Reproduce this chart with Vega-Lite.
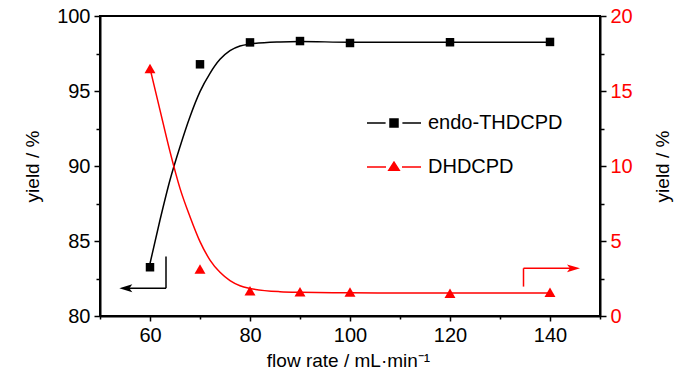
{
  "$schema": "https://vega.github.io/schema/vega-lite/v6.json",
  "width": 500,
  "height": 300,
  "autosize": {"type": "none"},
  "padding": {"left": 100, "top": 16, "right": 100, "bottom": 58},
  "background": "white",
  "config": {
    "font": "Liberation Sans",
    "view": {"stroke": "black", "strokeWidth": 2},
    "axis": {
      "grid": false,
      "domainColor": "black",
      "domainWidth": 2,
      "tickColor": "black",
      "tickWidth": 1.5,
      "labelFont": "Liberation Sans",
      "labelFontSize": 20,
      "labelColor": "black",
      "titleFont": "Liberation Sans",
      "titleFontSize": 19,
      "titleFontWeight": "normal",
      "titleColor": "black",
      "labelOverlap": false,
      "labelFlush": false
    }
  },
  "datasets": {
    "endo": [
      {"x": 60, "y": 83.25}, {"x": 70, "y": 96.78}, {"x": 80, "y": 98.24},
      {"x": 90, "y": 98.33}, {"x": 100, "y": 98.2}, {"x": 120, "y": 98.25},
      {"x": 140, "y": 98.27}
    ],
    "endoFit": [
      {"x": 60, "y": 83.5}, {"x": 62, "y": 86.4}, {"x": 64, "y": 89.07},
      {"x": 66, "y": 91.29}, {"x": 68, "y": 93.29}, {"x": 70, "y": 94.96},
      {"x": 72, "y": 96.18}, {"x": 74, "y": 97.11}, {"x": 76, "y": 97.69},
      {"x": 78, "y": 98.0}, {"x": 80, "y": 98.13}, {"x": 86, "y": 98.27},
      {"x": 90, "y": 98.3}, {"x": 100, "y": 98.25}, {"x": 120, "y": 98.25},
      {"x": 140, "y": 98.25}
    ],
    "dh": [
      {"x": 60, "y": 16.5}, {"x": 70, "y": 3.13}, {"x": 80, "y": 1.69},
      {"x": 90, "y": 1.62}, {"x": 100, "y": 1.6}, {"x": 120, "y": 1.51},
      {"x": 140, "y": 1.58}
    ],
    "dhFit": [
      {"x": 60, "y": 16.51}, {"x": 62, "y": 13.73}, {"x": 64, "y": 10.96},
      {"x": 66, "y": 8.51}, {"x": 68, "y": 6.62}, {"x": 70, "y": 4.96},
      {"x": 72, "y": 3.73}, {"x": 74, "y": 2.91}, {"x": 76, "y": 2.36},
      {"x": 78, "y": 2.02}, {"x": 80, "y": 1.84}, {"x": 86, "y": 1.62},
      {"x": 90, "y": 1.58}, {"x": 100, "y": 1.55}, {"x": 120, "y": 1.53},
      {"x": 140, "y": 1.53}
    ],
    "endoArrow": [
      {"x": 63.2, "x2": 63.2, "y": 81.85, "y2": 83.97},
      {"x": 55.5, "x2": 63.2, "y": 81.85, "y2": 81.85}
    ],
    "endoHead": [{"x": 55.16, "y": 81.85}],
    "dhArrow": [
      {"x": 134.7, "x2": 134.7, "y": 1.96, "y2": 3.18},
      {"x": 134.7, "x2": 144.5, "y": 3.18, "y2": 3.18}
    ],
    "dhHead": [{"x": 144.7, "y": 3.18}]
  },
  "encoding": {
    "x": {
      "field": "x",
      "type": "quantitative",
      "scale": {"domain": [50, 150], "nice": false, "zero": false},
      "axis": {
        "values": [50, 60, 70, 80, 90, 100, 110, 120, 130, 140, 150],
        "labelExpr": "datum.value % 20 === 0 && datum.value >= 60 && datum.value <= 140 ? datum.label : ''",
        "tickSize": {"condition": {"test": "datum.value % 20 === 0", "value": 5}, "value": 3},
        "labelPadding": 4,
        "title": "flow rate / mL·min⁻¹",
        "titleX": 248,
        "titleY": 50,
        "titleBaseline": "alphabetic"
      }
    }
  },
  "layer": [
    {
      "data": {"name": "endo"},
      "encoding": {
        "y": {
          "field": "y",
          "type": "quantitative",
          "scale": {"domain": [80, 100], "nice": false, "zero": false},
          "axis": {
            "orient": "left",
            "values": [80, 82.5, 85, 87.5, 90, 92.5, 95, 97.5, 100],
            "labelExpr": "datum.value % 5 === 0 ? datum.label : ''",
            "tickSize": {"condition": {"test": "datum.value % 5 === 0", "value": 6}, "value": 4},
            "labelPadding": 4,
            "title": "yield / %",
            "titleAngle": 270,
            "titleX": -62,
            "titleY": 150,
            "titleBaseline": "alphabetic"
          }
        }
      },
      "layer": [
        {
          "data": {"name": "endoFit"},
          "mark": {"type": "line", "color": "black", "strokeWidth": 1.5, "interpolate": "monotone"}
        },
        {
          "mark": {"type": "point", "shape": "square", "filled": true, "color": "black", "opacity": 1, "size": 72}
        },
        {
          "data": {"name": "endoArrow"},
          "mark": {"type": "rule", "color": "black", "strokeWidth": 1.5},
          "encoding": {
            "x2": {"field": "x2"},
            "y2": {"field": "y2"}
          }
        },
        {
          "data": {"name": "endoHead"},
          "mark": {"type": "point", "shape": "M-1,0L1,-0.6L0.55,0L1,0.6Z", "filled": true, "color": "black", "opacity": 1, "size": 169}
        },
        {
          "transform": [{"filter": "datum.x > 1000"}],
          "mark": {"type": "point", "opacity": 1, "strokeWidth": 1.5},
          "encoding": {
            "fill": {
              "field": "series",
              "type": "nominal",
              "scale": {"domain": ["endo-THDCPD", "DHDCPD"], "range": ["black", "#ff0000"]},
              "legend": {
                "orient": "none",
                "legendX": 273,
                "legendY": 86,
                "title": null,
                "padding": 0,
                "labelFontSize": 20,
                "labelFont": "Liberation Sans",
                "labelColor": "black",
                "symbolSize": 1600,
                "symbolStrokeWidth": 1.5,
                "symbolOpacity": 1,
                "labelOffset": 13,
                "rowPadding": 13
              }
            },
            "stroke": {
              "field": "series",
              "type": "nominal",
              "scale": {"domain": ["endo-THDCPD", "DHDCPD"], "range": ["black", "#ff0000"]}
            },
            "shape": {
              "field": "series",
              "type": "nominal",
              "scale": {
                "domain": ["endo-THDCPD", "DHDCPD"],
                "range": [
                  "M-1.35,0H-0.42M0.42,0H1.35M-0.2,-0.2H0.2V0.2H-0.2Z",
                  "M-1.35,0H-0.4M0.4,0H1.35M0,-0.24L0.26,0.16H-0.26Z"
                ]
              }
            }
          }
        }
      ]
    },
    {
      "data": {"name": "dh"},
      "encoding": {
        "y": {
          "field": "y",
          "type": "quantitative",
          "scale": {"domain": [0, 20], "nice": false, "zero": false},
          "axis": {
            "orient": "right",
            "values": [0, 2.5, 5, 7.5, 10, 12.5, 15, 17.5, 20],
            "labelExpr": "datum.value % 5 === 0 ? datum.label : ''",
            "tickSize": {"condition": {"test": "datum.value % 5 === 0", "value": 6}, "value": 4},
            "labelPadding": 4,
            "labelColor": "#ff0000",
            "title": "yield / %",
            "titleAngle": 270,
            "titleX": 68,
            "titleY": 150,
            "titleBaseline": "alphabetic"
          }
        }
      },
      "layer": [
        {
          "data": {"name": "dhFit"},
          "mark": {"type": "line", "color": "#ff0000", "strokeWidth": 1.5, "interpolate": "monotone"}
        },
        {
          "mark": {"type": "point", "shape": "triangle-up", "filled": true, "color": "#ff0000", "opacity": 1, "size": 120}
        },
        {
          "data": {"name": "dhArrow"},
          "mark": {"type": "rule", "color": "#ff0000", "strokeWidth": 1.5},
          "encoding": {
            "x2": {"field": "x2"},
            "y2": {"field": "y2"}
          }
        },
        {
          "data": {"name": "dhHead"},
          "mark": {"type": "point", "shape": "M1,0L-1,-0.6L-0.55,0L-1,0.6Z", "filled": true, "color": "#ff0000", "opacity": 1, "size": 169}
        }
      ]
    }
  ],
  "resolve": {"scale": {"y": "independent"}}
}
